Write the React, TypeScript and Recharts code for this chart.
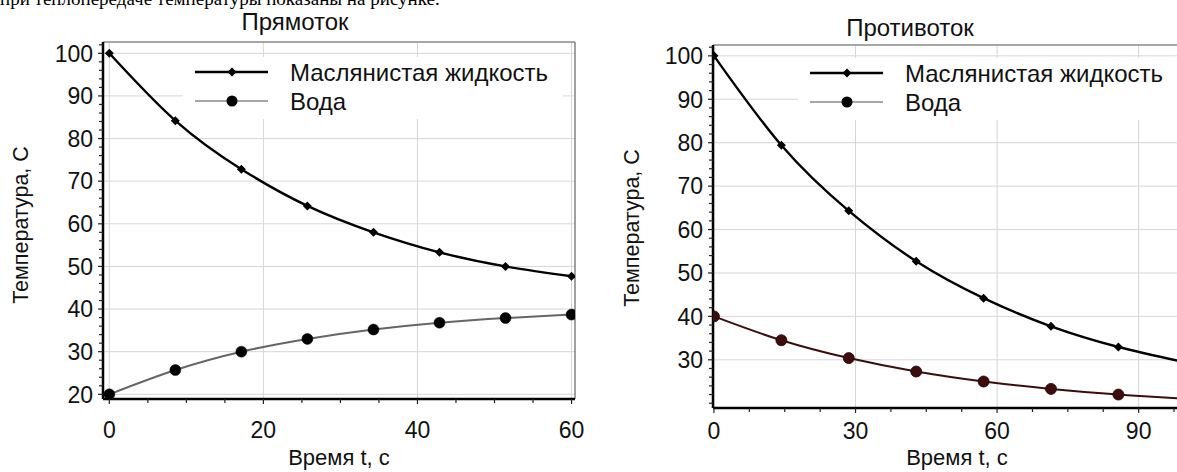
import React from 'react';
import { LineChart, Line, XAxis, YAxis, CartesianGrid, ReferenceLine, Legend } from 'recharts';

const SANS = '"Liberation Sans", Arial, sans-serif';
const SERIF = '"Liberation Serif", "Times New Roman", serif';

const oilName = 'Маслянистая жидкость';
const waterName = 'Вода';
const coTitle = 'Прямоток';
const ctTitle = 'Противоток';
const xTitle = 'Время t, c';
const yTitle = 'Температура, С';
const topText = 'при теплопередаче температуры показаны на рисунке.';

// Прямоток
const coTime = [0, 8.57, 17.14, 25.71, 34.29, 42.86, 51.43, 60];
const coOil = [100, 84.2, 72.8, 64.2, 58.0, 53.3, 50.0, 47.7];
const coWater = [20, 25.7, 30.0, 33.0, 35.2, 36.8, 37.9, 38.7];
const coXMajor = [0, 20, 40, 60];
const coXMinor = [5, 10, 15, 25, 30, 35, 45, 50, 55];
const coYMajor = [20, 30, 40, 50, 60, 70, 80, 90, 100];
const coYMinor = [22, 24, 26, 28, 32, 34, 36, 38, 42, 44, 46, 48, 52, 54, 56, 58, 62, 64, 66, 68, 72, 74, 76, 78, 82, 84, 86, 88, 92, 94, 96, 98, 102];
const coXDomain = [-0.82, 60.45];
const coYDomain = [18.9, 102.65];

// Противоток
const ctTime = [0, 14.29, 28.57, 42.86, 57.14, 71.43, 85.71, 100];
const ctOil = [100, 79.4, 64.3, 52.7, 44.2, 37.7, 32.95, 29.4];
const ctWater = [40, 34.5, 30.4, 27.3, 25.0, 23.3, 22.0, 21.0];
const ctXMajor = [0, 30, 60, 90];
const ctXMinor = [7.5, 15, 22.5, 37.5, 45, 52.5, 67.5, 75, 82.5, 97.5];
const ctYMajor = [30, 40, 50, 60, 70, 80, 90, 100];
const ctYMinor = [20, 22, 24, 26, 28, 32, 34, 36, 38, 42, 44, 46, 48, 52, 54, 56, 58, 62, 64, 66, 68, 72, 74, 76, 78, 82, 84, 86, 88, 92, 94, 96, 98, 102];
const ctXDomain = [-0.2, 103];
const ctYDomain = [18.9, 102.5];

const coData = coTime.map((t, i) => ({ t, oil: coOil[i], water: coWater[i] }));
const ctData = ctTime.map((t, i) => ({ t, oil: ctOil[i], water: ctWater[i] }));

const FS = 23;
const LFS = 24;

const XTick = (props: any) => {
  const { x, y, payload, majors, labelDy } = props;
  const isMajor = majors.includes(payload.value);
  return (
    <g>
      <line x1={x} y1={y} x2={x} y2={y + (isMajor ? 5 : 4)} stroke="#222" strokeWidth={1.2} />
      {isMajor && (
        <text x={x} y={y + labelDy} textAnchor="middle" fontSize={FS} fontFamily={SANS} fill="#111">
          {payload.value}
        </text>
      )}
    </g>
  );
};

const YTick = (props: any) => {
  const { x, y, payload, majors } = props;
  const isMajor = majors.includes(payload.value);
  return (
    <g>
      <line x1={x} y1={y} x2={x - (isMajor ? 5 : 4)} y2={y} stroke="#222" strokeWidth={1.2} />
      {isMajor && (
        <text x={x - 10} y={y + FS * 0.36} textAnchor="end" fontSize={FS} fontFamily={SANS} fill="#111">
          {payload.value}
        </text>
      )}
    </g>
  );
};

const Diamond = (props: any) => {
  const { cx, cy, fill } = props;
  if (cx == null || cy == null) return null;
  const s = 4.5;
  return <path d={`M${cx},${cy - s}L${cx + s},${cy}L${cx},${cy + s}L${cx - s},${cy}Z`} fill={fill || '#000'} />;
};

const LegendBox = () => (
  <svg width={380} height={62} style={{ display: 'block', overflow: 'visible' }}>
    <rect x={0} y={0} width={380} height={62} fill="#fff" />
    <line x1={12} y1={15} x2={85} y2={15} stroke="#000" strokeWidth={2.4} />
    <Diamond cx={49} cy={15} fill="#000" />
    <text x={107} y={15 + LFS * 0.36} fontSize={LFS} fontFamily={SANS} fill="#111">{oilName}</text>
    <line x1={12} y1={44} x2={85} y2={44} stroke="#888" strokeWidth={1.6} />
    <circle cx={49} cy={44} r={5.5} fill="#000" />
    <text x={107} y={44 + LFS * 0.36} fontSize={LFS} fontFamily={SANS} fill="#111">{waterName}</text>
  </svg>
);

const axisLine = { stroke: '#000', strokeWidth: 2.5 };

export default function App() {
  return (
    <div style={{ position: 'absolute', left: 0, top: 0, width: 1177, height: 472, overflow: 'hidden', background: '#fff' }}>
      <div style={{ position: 'absolute', left: 0, top: 0 }}>
        <LineChart width={600} height={472} data={coData} margin={{ top: 42, right: 25, left: 0, bottom: 0 }}>
          <CartesianGrid stroke="#d6d6d6" strokeWidth={1} horizontalValues={coYMajor} verticalValues={coXMajor} />
          <XAxis type="number" dataKey="t" domain={coXDomain} allowDataOverflow ticks={[...coXMajor, ...coXMinor].sort((a, b) => a - b)} interval={0}
            tickLine={false} tickSize={0} tickMargin={0} axisLine={axisLine} height={73} tick={<XTick majors={coXMajor} labelDy={39} />} />
          <YAxis type="number" domain={coYDomain} allowDataOverflow ticks={[...coYMajor, ...coYMinor].sort((a, b) => a - b)} interval={0}
            tickLine={false} tickSize={0} tickMargin={0} axisLine={axisLine} width={103} tick={<YTick majors={coYMajor} />} />
          <ReferenceLine y={coYDomain[1]} stroke="#8a8a8a" strokeWidth={1.6} />
          <ReferenceLine x={coXDomain[1]} stroke="#8a8a8a" strokeWidth={1.6} />
          <Legend layout="vertical" align="center" verticalAlign="middle" content={() => <LegendBox />}
            wrapperStyle={{ left: 183, top: 57, width: 380, height: 62 }} />
          <Line type="natural" dataKey="oil" name={oilName} stroke="#000" strokeWidth={2.4} isAnimationActive={false} activeDot={false}
            dot={(p: any) => <Diamond key={`o${p.index}`} cx={p.cx} cy={p.cy} fill="#000" />} />
          <Line type="natural" dataKey="water" name={waterName} stroke="#666" strokeWidth={2} isAnimationActive={false} activeDot={false}
            dot={{ r: 5.5, fill: '#000', stroke: '#000', strokeWidth: 0.5 }} />
        </LineChart>
      </div>
      <div style={{ position: 'absolute', left: 600, top: 0 }}>
        <LineChart width={620} height={472} data={ctData} margin={{ top: 45, right: 20, left: 0, bottom: 0 }}>
          <CartesianGrid stroke="#d6d6d6" strokeWidth={1} horizontalValues={ctYMajor} verticalValues={ctXMajor} />
          <XAxis type="number" dataKey="t" domain={ctXDomain} allowDataOverflow ticks={[...ctXMajor, ...ctXMinor].sort((a, b) => a - b)} interval={0}
            tickLine={false} tickSize={0} tickMargin={0} axisLine={axisLine} height={64} tick={<XTick majors={ctXMajor} labelDy={31} />} />
          <YAxis type="number" domain={ctYDomain} allowDataOverflow ticks={[...ctYMajor, ...ctYMinor].sort((a, b) => a - b)} interval={0}
            tickLine={false} tickSize={0} tickMargin={0} axisLine={axisLine} width={113} tick={<YTick majors={ctYMajor} />} />
          <ReferenceLine y={ctYDomain[1]} stroke="#8a8a8a" strokeWidth={1.6} />
          <Legend layout="vertical" align="center" verticalAlign="middle" content={() => <LegendBox />}
            wrapperStyle={{ left: 198, top: 58, width: 380, height: 62 }} />
          <Line type="natural" dataKey="oil" name={oilName} stroke="#000" strokeWidth={2.4} isAnimationActive={false} activeDot={false}
            dot={(p: any) => <Diamond key={`o${p.index}`} cx={p.cx} cy={p.cy} fill="#000" />} />
          <Line type="natural" dataKey="water" name={waterName} stroke="#3d0d0d" strokeWidth={2} isAnimationActive={false} activeDot={false}
            dot={{ r: 5.5, fill: '#3d0d0d', stroke: '#1a0505', strokeWidth: 0.8 }} />
        </LineChart>
      </div>
      <svg width={1177} height={472} style={{ position: 'absolute', left: 0, top: 0, pointerEvents: 'none' }}>
        <text x={0} y={5} fontSize={19} fontFamily={SERIF} fill="#000">{topText}</text>
        <text x={295} y={30} textAnchor="middle" fontSize={24} fontFamily={SANS} fill="#111">{coTitle}</text>
        <text x={910} y={36} textAnchor="middle" fontSize={24} fontFamily={SANS} fill="#111">{ctTitle}</text>
        <text x={339} y={465} textAnchor="middle" fontSize={22} fontFamily={SANS} fill="#111">{xTitle}</text>
        <text x={957} y={465} textAnchor="middle" fontSize={22} fontFamily={SANS} fill="#111">{xTitle}</text>
        <text transform="translate(21,225) rotate(-90)" textAnchor="middle" dominantBaseline="central" fontSize={21.5} fontFamily={SANS} fill="#111">{yTitle}</text>
        <text transform="translate(632,228) rotate(-90)" textAnchor="middle" dominantBaseline="central" fontSize={21.5} fontFamily={SANS} fill="#111">{yTitle}</text>
      </svg>
    </div>
  );
}
